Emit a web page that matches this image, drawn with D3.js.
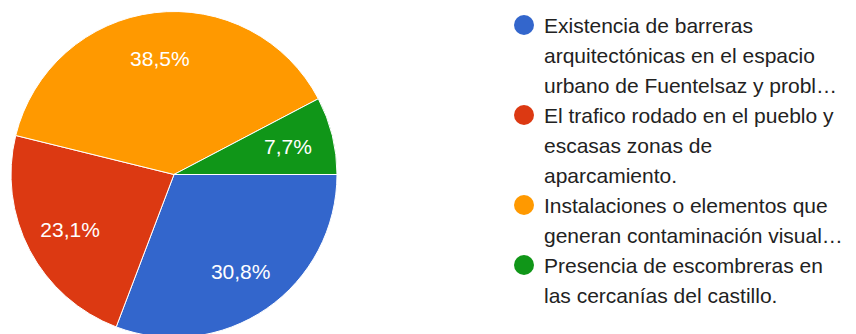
<!DOCTYPE html>
<html>
<head>
<meta charset="utf-8">
<script src="https://cdn.jsdelivr.net/npm/d3@7"></script>
<style>
  html, body { margin: 0; padding: 0; background: #fff; }
  svg { display: block; }
</style>
</head>
<body>
<svg id="chart" width="856" height="334"></svg>
<script>
// Answer categories (legend text, already wrapped as shown) and their shares
const categories = [
  ["Existencia de barreras", "arquitectónicas en el espacio", "urbano de Fuentelsaz y probl…"],
  ["El trafico rodado en el pueblo y", "escasas zonas de", "aparcamiento."],
  ["Instalaciones o elementos que", "generan contaminación visual…"],
  ["Presencia de escombreras en", "las cercanías del castillo."]
];
const values = [30.8, 23.1, 38.5, 7.7];
const valueLabels = ["30,8%", "23,1%", "38,5%", "7,7%"];
const colors = ["#3366cc", "#dc3912", "#ff9900", "#109618"];

const svg = d3.select("#chart");
const font = "Arial, 'Liberation Sans', Helvetica, sans-serif";

// Pie geometry
const cx = 174, cy = 174.5, R = 163;
const pie = d3.pie()
  .sort(null)
  .value(d => d)
  .startAngle(Math.PI / 2)
  .endAngle(Math.PI / 2 + 2 * Math.PI);
const arcs = pie(values);
const arc = d3.arc().innerRadius(0).outerRadius(R);
const labelArc = d3.arc().innerRadius(R * 0.72).outerRadius(R * 0.72);

const g = svg.append("g").attr("transform", `translate(${cx},${cy})`);

g.selectAll("path.slice")
  .data(arcs)
  .join("path")
  .attr("class", "slice")
  .attr("d", arc)
  .attr("fill", (d, i) => colors[i])
  .attr("stroke", "#fff")
  .attr("stroke-width", 1);

g.selectAll("text.pct")
  .data(arcs)
  .join("text")
  .attr("class", "pct")
  .attr("transform", d => `translate(${labelArc.centroid(d)})`)
  .attr("text-anchor", "middle")
  .attr("dy", "0.36em")
  .attr("fill", "#fff")
  .style("font-family", font)
  .style("font-size", "21px")
  .text((d, i) => valueLabels[i]);

// Legend
const legendX = 524, textX = 544, firstBaseline = 33, lineH = 30;
let line = 0;
const legend = svg.append("g");
categories.forEach((lines, i) => {
  const base = firstBaseline + line * lineH;
  legend.append("circle")
    .attr("cx", legendX)
    .attr("cy", base - 8)
    .attr("r", 10)
    .attr("fill", colors[i]);
  const t = legend.append("text")
    .attr("fill", "#222")
    .style("font-family", font)
    .style("font-size", "21px");
  lines.forEach((s, j) => {
    t.append("tspan")
      .attr("x", textX)
      .attr("y", base + j * lineH)
      .text(s);
  });
  line += lines.length;
});
</script>
</body>
</html>
